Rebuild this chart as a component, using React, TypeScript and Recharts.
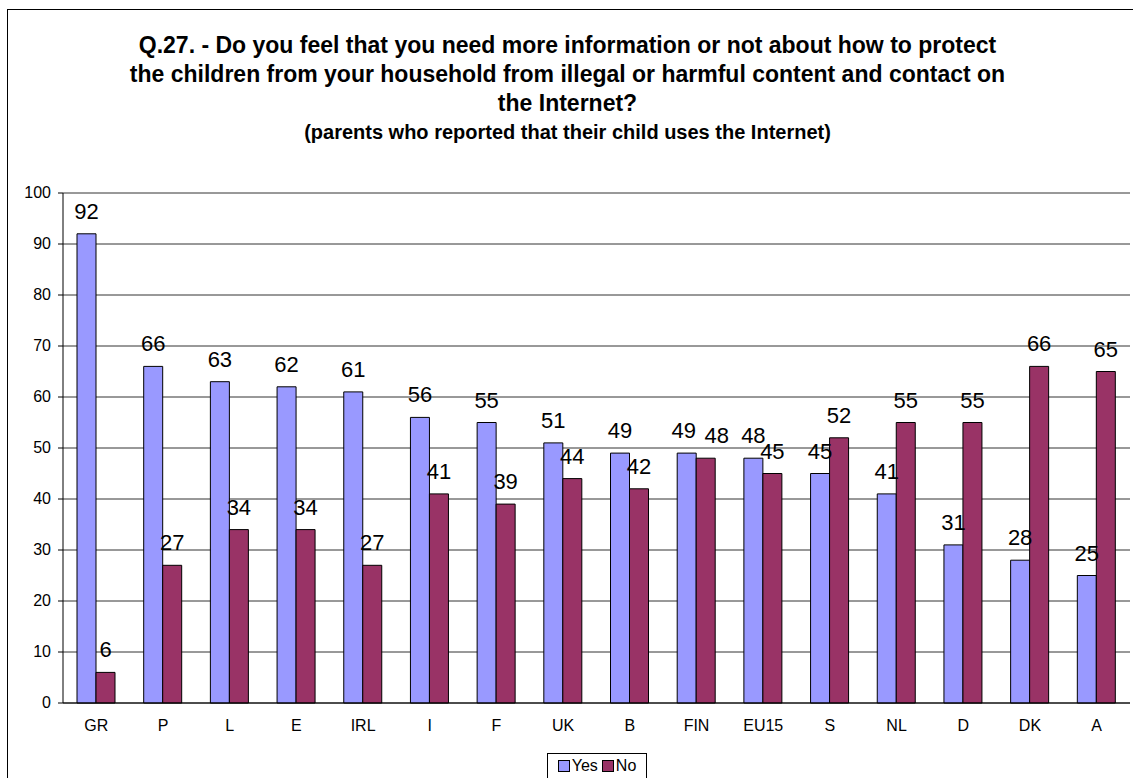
import React from "react"
import {
  BarChart,
  Bar,
  XAxis,
  YAxis,
  CartesianGrid,
  LabelList,
} from "recharts"

const countries = ["GR", "P", "L", "E", "IRL", "I", "F", "UK", "B", "FIN", "EU15", "S", "NL", "D", "DK", "A"]
const yesValues = [92, 66, 63, 62, 61, 56, 55, 51, 49, 49, 48, 45, 41, 31, 28, 25]
const noValues = [6, 27, 34, 34, 27, 41, 39, 44, 42, 48, 45, 52, 55, 55, 66, 65]
const yTicks = [0, 10, 20, 30, 40, 50, 60, 70, 80, 90, 100]

const titleLines = [
  "Q.27. - Do you feel that you need more information or not about how to protect",
  "the children from your household from illegal or harmful content and contact on",
  "the Internet?",
]
const subtitle = "(parents who reported that their child uses the Internet)"

const YES_COLOR = "#9999FF"
const NO_COLOR = "#993366"
const FONT = "Arial, 'Liberation Sans', sans-serif"

const data = countries.map((c, i) => ({ name: c, yes: yesValues[i], no: noValues[i] }))
const boundaryTicks = Array.from({ length: countries.length + 1 }, (_, i) => i)

function XTick(props: any) {
  const { x, y, payload } = props
  return (
    <text x={x} y={y} dy={16} textAnchor="middle" style={{ fontSize: 16, fontFamily: FONT }} fill="#000">
      {payload.value}
    </text>
  )
}

function YTick(props: any) {
  const { x, y, payload } = props
  return (
    <text x={x} y={y} dy={5} textAnchor="end" style={{ fontSize: 16, fontFamily: FONT }} fill="#000">
      {payload.value}
    </text>
  )
}

// Excel pushes a label aside when the two bars of a group are nearly equal
function makeLabel(series: "yes" | "no") {
  return function ValueLabel(props: any) {
    const { x, y, width, value, index } = props
    const close = Math.abs(yesValues[index] - noValues[index]) <= 1
    const shift = close ? (series === "yes" ? -3 : 11) : 0
    return (
      <text x={x + width / 2 + shift} y={y - 15} textAnchor="middle" style={{ fontSize: 22, fontFamily: FONT }} fill="#000">
        {value}
      </text>
    )
  }
}

export default function App() {
  return (
    <div style={{ position: "absolute", left: 0, top: 0, width: 1133, height: 778, overflow: "hidden", background: "#fff", fontFamily: FONT }}>
      <div style={{ position: "absolute", left: 7, top: 9, width: 1140, height: 790, border: "1px solid #000", boxSizing: "border-box" }} />

      <div style={{ position: "absolute", left: 0, top: 31, width: 1135, textAlign: "center", fontWeight: "bold", fontSize: 23, lineHeight: "29px", color: "#000" }}>
        {titleLines.map((line) => (
          <div key={line}>{line}</div>
        ))}
      </div>
      <div style={{ position: "absolute", left: 0, top: 121, width: 1135, textAlign: "center", fontWeight: "bold", fontSize: 20, lineHeight: "22px", color: "#000" }}>
        {subtitle}
      </div>

      <div style={{ position: "absolute", left: 0, top: 0 }}>
        <BarChart
          width={1133}
          height={778}
          data={data}
          margin={{ top: 193, right: 3, bottom: 35, left: 33 }}
          barCategoryGap="21%"
          barGap={0}
        >
          <CartesianGrid vertical={false} stroke="#333" strokeWidth={1} />
          <XAxis
            xAxisId="bounds"
            type="number"
            domain={[0, countries.length]}
            ticks={boundaryTicks}
            tickFormatter={() => ""}
            height={0}
            axisLine={false}
            tickLine={{ stroke: "#000" }}
            tickSize={6}
          />
          <XAxis
            dataKey="name"
            height={40}
            axisLine={{ stroke: "#000" }}
            tickLine={false}
            tickSize={6}
            tick={<XTick />}
            tickMargin={6}
            interval={0}
          />
          <YAxis
            domain={[0, 100]}
            ticks={yTicks}
            width={30}
            interval={0}
            axisLine={{ stroke: "#000" }}
            tickLine={{ stroke: "#000" }}
            tickSize={5}
            tickMargin={7}
            tick={<YTick />}
          />
          <YAxis
            yAxisId="frame"
            orientation="right"
            width={0}
            tick={false}
            tickLine={false}
            axisLine={{ stroke: "#777" }}
          />
          <Bar dataKey="yes" name="Yes" fill={YES_COLOR} stroke="#000" strokeWidth={1} isAnimationActive={false}>
            <LabelList dataKey="yes" content={makeLabel("yes")} />
          </Bar>
          <Bar dataKey="no" name="No" fill={NO_COLOR} stroke="#000" strokeWidth={1} isAnimationActive={false}>
            <LabelList dataKey="no" content={makeLabel("no")} />
          </Bar>
        </BarChart>
      </div>

      <div style={{ position: "absolute", left: 547, top: 753, width: 100, height: 26, border: "1px solid #000", boxSizing: "border-box", display: "flex", alignItems: "center", justifyContent: "center", gap: 4, fontSize: 16, color: "#000" }}>
        {[{ label: "Yes", color: YES_COLOR }, { label: "No", color: NO_COLOR }].map((item) => (
          <span key={item.label} style={{ display: "inline-flex", alignItems: "center", gap: 2 }}>
            <span style={{ display: "inline-block", width: 10, height: 10, background: item.color, border: "1px solid #000" }} />
            {item.label}
          </span>
        ))}
      </div>
    </div>
  )
}
